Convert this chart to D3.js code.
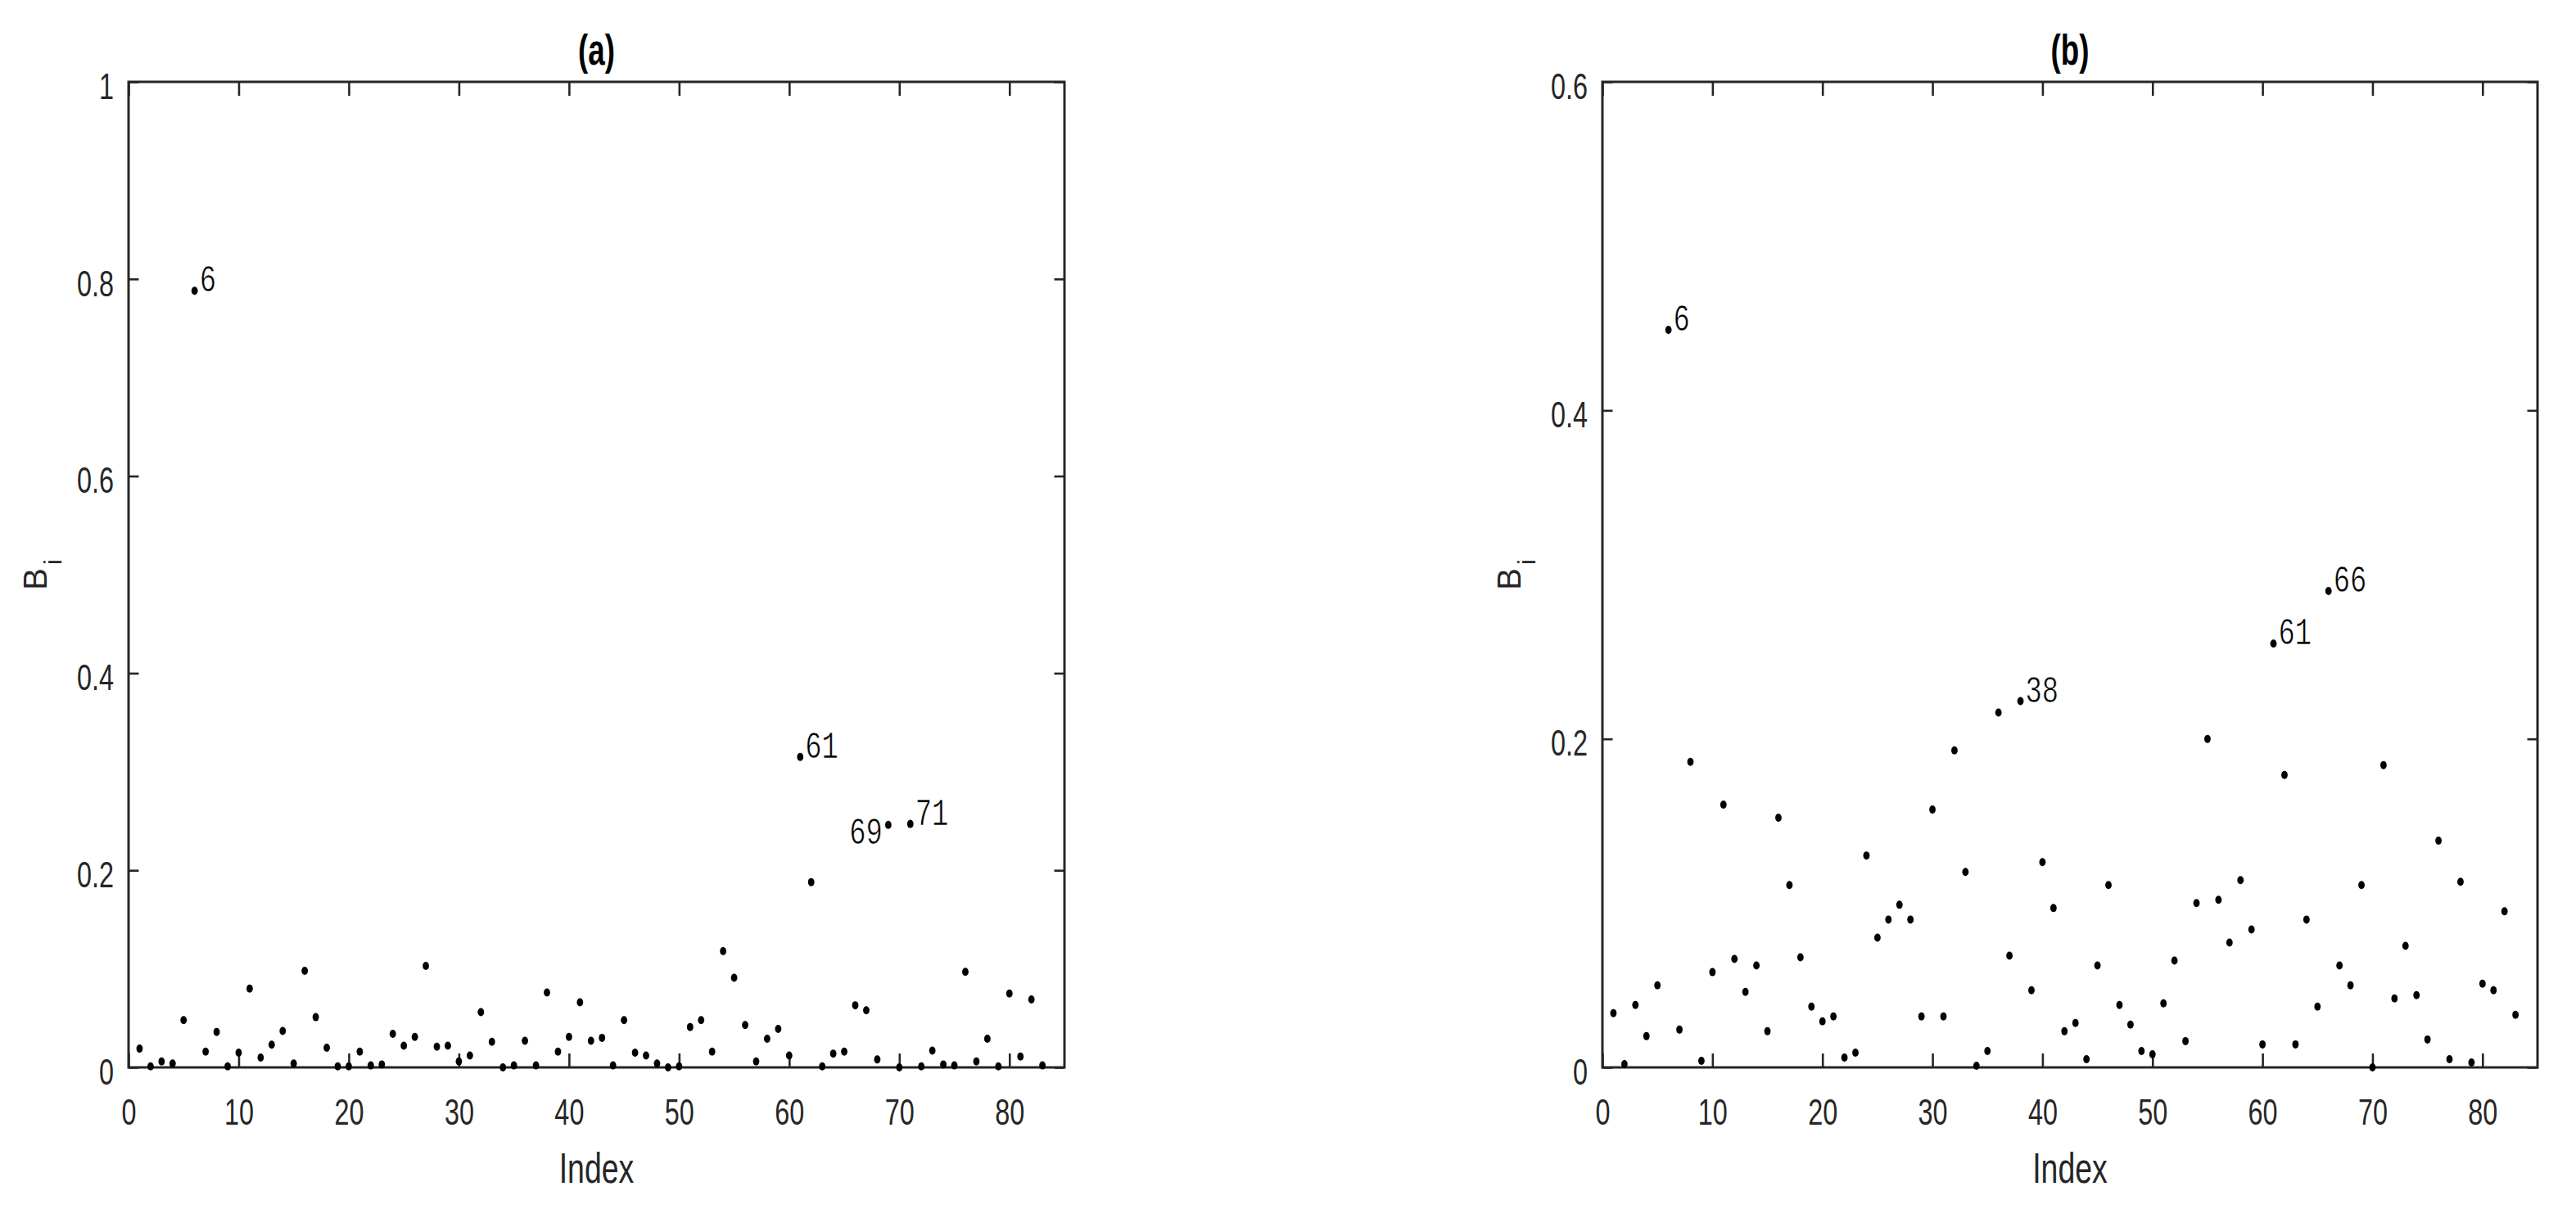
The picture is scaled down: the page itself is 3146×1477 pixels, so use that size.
<!DOCTYPE html>
<html>
<head>
<meta charset="utf-8">
<script src="https://cdn.jsdelivr.net/npm/d3@7/dist/d3.min.js"></script>
<style>
  body { margin: 0; background: #ffffff; }
  svg { display: block; }
</style>
</head>
<body>
<div id="chart"></div>
<script>
'use strict';

// ---------------------------------------------------------------
// data, index 1..83
// ---------------------------------------------------------------
var valuesA = [
  0.019, 0.001, 0.006, 0.004, 0.048, 0.788, 0.016, 0.036, 0.001, 0.015,
  0.080, 0.010, 0.023, 0.037, 0.004, 0.098, 0.051, 0.020, 0.001, 0.001,
  0.016, 0.002, 0.003, 0.034, 0.022, 0.031, 0.103, 0.021, 0.022, 0.006,
  0.012, 0.056, 0.026, 0.000, 0.002, 0.027, 0.002, 0.076, 0.016, 0.031,
  0.066, 0.027, 0.030, 0.002, 0.048, 0.015, 0.012, 0.004, 0.000, 0.001,
  0.041, 0.048, 0.016, 0.118, 0.091, 0.043, 0.006, 0.029, 0.039, 0.012,
  0.315, 0.188, 0.001, 0.014, 0.016, 0.063, 0.058, 0.008, 0.246, 0.000,
  0.247, 0.001, 0.017, 0.003, 0.002, 0.097, 0.006, 0.029, 0.001, 0.075,
  0.011, 0.069, 0.002
];
var valuesB = [
  0.033, 0.002, 0.038, 0.019, 0.050, 0.449, 0.023, 0.186, 0.004, 0.058,
  0.160, 0.066, 0.046, 0.062, 0.022, 0.152, 0.111, 0.067, 0.037, 0.028,
  0.031, 0.006, 0.009, 0.129, 0.079, 0.090, 0.099, 0.090, 0.031, 0.157,
  0.031, 0.193, 0.119, 0.001, 0.010, 0.216, 0.068, 0.223, 0.047, 0.125,
  0.097, 0.022, 0.027, 0.005, 0.062, 0.111, 0.038, 0.026, 0.010, 0.008,
  0.039, 0.065, 0.016, 0.100, 0.200, 0.102, 0.076, 0.114, 0.084, 0.014,
  0.258, 0.178, 0.014, 0.090, 0.037, 0.290, 0.062, 0.050, 0.111, 0.000,
  0.184, 0.042, 0.074, 0.044, 0.017, 0.138, 0.005, 0.113, 0.003, 0.051,
  0.047, 0.095, 0.032
];

// points that carry their index as a label
var labelsA = [6, 61, 69, 71];
var labelsB = [6, 38, 61, 66];
var leftLabelsA = [69];   // label drawn on the left of the point
var leftLabelsB = [];

var xTicks = [0, 10, 20, 30, 40, 50, 60, 70, 80];
var yTicksA = [0, 0.2, 0.4, 0.6, 0.8, 1];
var yTicksB = [0, 0.2, 0.4, 0.6];

// ---------------------------------------------------------------
var W = 3146, H = 1477;
var SQ = 0.72;              // horizontal squeeze of the lettering
var axisCol = '#262626';

var svg = d3.select('#chart').append('svg')
  .attr('width', W)
  .attr('height', H)
  .attr('viewBox', '0 0 ' + W + ' ' + H);

svg.append('rect')
  .attr('width', W)
  .attr('height', H)
  .style('fill', '#ffffff');

function fmt(d) {
  return String(+d.toFixed(1));
}

function drawPanel(cfg) {
  var top = 100, bottom = 1304;
  var x = d3.scaleLinear().domain([0, 85]).range([cfg.left, cfg.right]);
  var y = d3.scaleLinear().domain([0, cfg.yMax]).range([bottom, top]);
  var g = svg.append('g');

  // bottom axis with labels, ticks pointing in
  var gx = g.append('g')
    .attr('transform', 'translate(0,' + bottom + ')')
    .call(d3.axisBottom(x).tickValues(xTicks).tickSizeInner(-17).tickSizeOuter(0).tickPadding(38));
  gx.selectAll('text')
    .attr('transform', 'scale(' + SQ + ',1)')
    .style('font-family', '"Liberation Sans", Arial, sans-serif')
    .style('font-size', '45px')
    .style('fill', axisCol);

  // top axis, ticks only
  g.append('g')
    .attr('transform', 'translate(0,' + top + ')')
    .call(d3.axisTop(x).tickValues(xTicks).tickSizeInner(-17).tickSizeOuter(0).tickFormat(''));

  // left axis with labels
  var gy = g.append('g')
    .attr('transform', 'translate(' + cfg.left + ',0)')
    .call(d3.axisLeft(y).tickValues(cfg.yTicks).tickSizeInner(-12.5).tickSizeOuter(0).tickFormat(fmt));
  gy.selectAll('text')
    .attr('x', -18 / SQ)
    .attr('dy', '0.45em')
    .attr('transform', 'scale(' + SQ + ',1)')
    .style('font-family', '"Liberation Sans", Arial, sans-serif')
    .style('font-size', '45px')
    .style('fill', axisCol);

  // right axis, ticks only
  g.append('g')
    .attr('transform', 'translate(' + cfg.right + ',0)')
    .call(d3.axisRight(y).tickValues(cfg.yTicks).tickSizeInner(-12.5).tickSizeOuter(0).tickFormat(''));

  g.selectAll('.domain').remove();
  g.selectAll('.tick line')
    .style('stroke', axisCol)
    .style('stroke-width', '2.6px');

  // box
  g.append('rect')
    .attr('x', cfg.left)
    .attr('y', top)
    .attr('width', cfg.right - cfg.left)
    .attr('height', bottom - top)
    .style('fill', 'none')
    .style('stroke', axisCol)
    .style('stroke-width', '3px');

  // points
  g.selectAll('ellipse.pt')
    .data(cfg.values)
    .enter().append('ellipse')
    .attr('class', 'pt')
    .attr('cx', function(d, i) { return x(i + 1); })
    .attr('cy', function(d) { return y(d); })
    .attr('rx', 3.9)
    .attr('ry', 5)
    .style('fill', '#000000');

  // index labels beside the big ones
  g.selectAll('text.lbl')
    .data(cfg.labels)
    .enter().append('text')
    .attr('class', 'lbl')
    .attr('transform', function(k) {
      var left = cfg.leftLabels.indexOf(k) >= 0;
      var px = x(k) + (left ? -7 : 6);
      var py = y(cfg.values[k - 1]) + (left ? 23 : 1);
      return 'translate(' + px + ',' + py + ') scale(' + SQ + ',1)';
    })
    .attr('text-anchor', function(k) { return cfg.leftLabels.indexOf(k) >= 0 ? 'end' : 'start'; })
    .style('font-family', '"Liberation Mono", "DejaVu Sans Mono", monospace')
    .style('font-size', '47px')
    .style('fill', '#000000')
    .style('stroke', '#ffffff')
    .style('stroke-width', '0.7px')
    .text(function(k) { return k; });

  var cx = (cfg.left + cfg.right) / 2;

  // title
  g.append('text')
    .attr('transform', 'translate(' + cx + ',79) scale(' + SQ + ',1)')
    .attr('text-anchor', 'middle')
    .style('font-family', '"Liberation Sans", Arial, sans-serif')
    .style('font-size', '51px')
    .style('font-weight', 'bold')
    .style('fill', '#000000')
    .text(cfg.title);

  // x label
  g.append('text')
    .attr('transform', 'translate(' + cx + ',1445) scale(' + SQ + ',1)')
    .attr('text-anchor', 'middle')
    .style('font-family', '"Liberation Sans", Arial, sans-serif')
    .style('font-size', '52px')
    .style('fill', axisCol)
    .text('Index');

  // y label B_i
  var yl = g.append('text')
    .attr('transform', 'translate(' + (cfg.left - 100) + ',' + ((top + bottom) / 2) + ') rotate(-90)')
    .attr('text-anchor', 'middle')
    .style('font-family', '"Liberation Sans", Arial, sans-serif')
    .style('font-size', '40px')
    .style('fill', axisCol);
  yl.append('tspan').text('B');
  yl.append('tspan')
    .attr('dy', 18)
    .attr('dx', 4)
    .style('font-size', '30px')
    .text('i');
}

drawPanel({ left: 157, right: 1300, yMax: 1, yTicks: yTicksA, values: valuesA,
  labels: labelsA, leftLabels: leftLabelsA, title: '(a)' });
drawPanel({ left: 1957, right: 3099, yMax: 0.6, yTicks: yTicksB, values: valuesB,
  labels: labelsB, leftLabels: leftLabelsB, title: '(b)' });
</script>
</body>
</html>
